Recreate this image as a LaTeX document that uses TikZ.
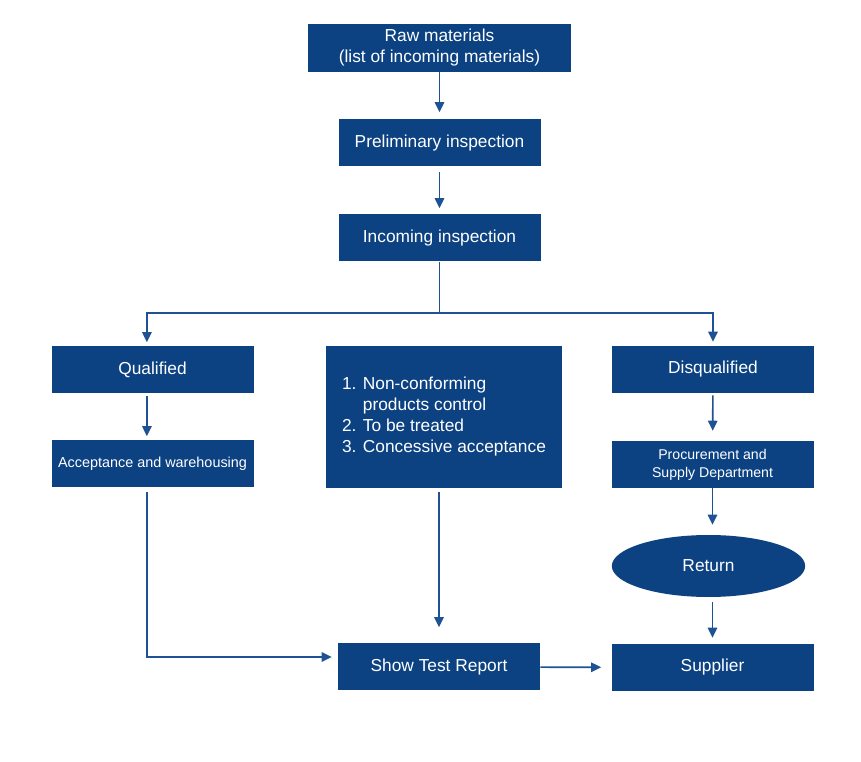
\documentclass[tikz,border=0pt]{standalone}
\usepackage{fontspec}
\setmainfont{Liberation Sans}
\usetikzlibrary{positioning,shapes.geometric,arrows.meta}
\definecolor{boxblue}{RGB}{12,66,130}
\definecolor{lineblue}{RGB}{30,82,148}

\begin{document}
\begin{tikzpicture}[
    x=0.75pt, y=-0.75pt,
    box/.style={fill=boxblue, text=white, minimum width=151.5pt, minimum height=35.25pt,
        inner sep=2pt, align=center, font=\fontsize{13}{15.75}\selectfont},
    oval/.style={ellipse, fill=boxblue, text=white, minimum width=145pt, minimum height=46.5pt,
        inner sep=0pt, font=\fontsize{13}{15.75}\selectfont},
    link/.style={draw=lineblue, line width=1.2pt},
    arr/.style={link, -{Triangle[length=7.5pt,width=7pt]}}
]
    \useasboundingbox (0,0) rectangle (861,762);

    \node[box, minimum width=197pt, minimum height=36pt] (raw) at (439.5,48) {Raw materials\\(list of incoming materials)};
    \node[box] (prelim) at (439.5,143) {Preliminary inspection};
    \node[box] (incoming) at (439.5,238) {Incoming inspection};
    \node[box] (qual) at (152.5,370) {Qualified};
    \node[box, minimum width=177pt, minimum height=106.5pt, align=left] (ncp) at (444,417)
        {1. Non-conforming\\\hphantom{1. }products control\\2. To be treated\\3. Concessive acceptance};
    \node[box] (disq) at (713,369.5) {Disqualified};
    \node[box, font=\fontsize{10.8}{13}\selectfont] (accept) at (152.5,464) {Acceptance and warehousing};
    \node[box, font=\fontsize{10.6}{13.5}\selectfont] (procure) at (712.5,464.5) {Procurement and\\Supply Department};
    \node[oval] (return) at (708.5,566) {Return};
    \node[box] (report) at (439,667) {Show Test Report};
    \node[box] (supplier) at (712.5,667.5) {Supplier};

    \coordinate (fork) at (439.5,313);

    % main line
    \draw[arr, shorten >=5.25pt] (raw) -- (prelim);
    \draw[arr, shorten <=3.75pt, shorten >=4.5pt] (prelim) -- (incoming);
    \draw[link] (incoming) -- (fork);
    \draw[arr, shorten >=3pt] (fork) -| ([xshift=-4.2pt]qual.north);
    \draw[arr, shorten >=3pt] (fork) -| (disq.north);

    % qualified branch
    \draw[arr, shorten <=1.5pt, shorten >=3pt] ([xshift=-4.2pt]qual.south) -- ([xshift=-4.2pt]accept.north);
    \draw[arr, shorten <=3pt, shorten >=4.5pt] ([xshift=-4.2pt]accept.south) |- ([yshift=7.5pt]report.west);

    % non-conforming
    \draw[arr, shorten <=3pt, shorten >=12pt] (ncp.south -| report.north) -- (report.north);
    \draw[arr, shorten >=7.5pt] (report) -- (supplier);

    % disqualified branch
    \draw[arr, shorten <=1.5pt, shorten >=7.5pt] (disq) -- (procure);
    \draw[arr, shorten >=7.5pt] (procure.south) -- (procure.south |- return.north);
    \draw[arr, shorten <=3.75pt, shorten >=4.5pt] (supplier.north |- return.south) -- (supplier.north);
\end{tikzpicture}
\end{document}
